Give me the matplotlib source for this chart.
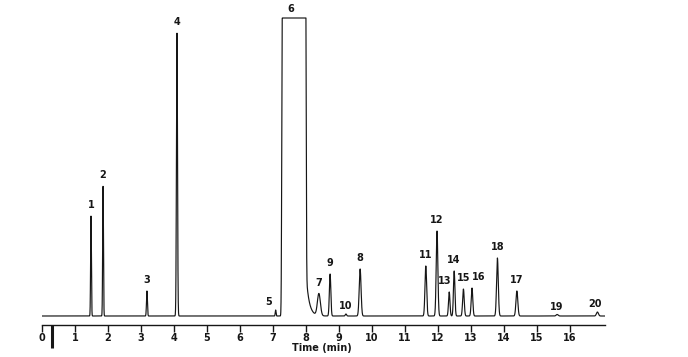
import matplotlib
matplotlib.use("Agg")
import matplotlib.pyplot as plt
import numpy as np

# peak table (time in min, height in px-like units above baseline)
peak_ids = ["1", "2", "3", "4", "5", "7", "9", "10", "8",
            "11", "12", "13", "14", "15", "16", "18", "17", "19", "20"]
peak_times = [1.485, 1.85, 3.18, 4.09, 7.08, 8.39, 8.73, 9.21, 9.64,
              11.63, 11.97, 12.34, 12.49, 12.77, 13.03, 13.80, 14.39, 15.61, 16.83]
peak_heights = [100, 130, 25, 283, 6, 22, 42, 2, 47,
                50, 85, 24, 45, 27, 28, 58, 25, 1.5, 4]
peak_sigmas = [0.012, 0.012, 0.014, 0.016, 0.012, 0.045, 0.022, 0.02, 0.028,
               0.025, 0.025, 0.022, 0.022, 0.024, 0.024, 0.026, 0.028, 0.03, 0.03]

# solvent peak 6: saturated, flat top between start/end, short tail on the right
solvent_start, solvent_end = 7.28, 7.99
solvent_top = 298
tail_ref_time, tail_ref_height, tail_tau = 8.03, 31, 0.09

t = np.linspace(0, 17.06, 8000)
signal = np.zeros_like(t)
for tm, h, s in zip(peak_times, peak_heights, peak_sigmas):
    signal += h * np.exp(-0.5 * ((t - tm) / s) ** 2)

sol = np.where(t < solvent_start,
               solvent_top * np.exp(-0.5 * ((t - solvent_start) / 0.015) ** 2),
               np.where(t > solvent_end,
                        solvent_top * np.exp(-0.5 * ((t - solvent_end) / 0.014) ** 2),
                        solvent_top))
tail = np.where(t > solvent_end,
                tail_ref_height * np.exp(-(t - tail_ref_time) / tail_tau), 0)
sol = np.minimum(sol + tail, solvent_top)
signal = signal + sol

fig = plt.figure(figsize=(6.88, 3.57), dpi=100)
ax = fig.add_axes([42 / 688, 1 - 325 / 357, 563 / 688, 308 / 357])
ax.plot(t, signal, color="#161616", lw=0.85)
ax.set_xlim(0, 17.06)
ax.set_ylim(-9, 299)

for sp in ["top", "right", "left"]:
    ax.spines[sp].set_visible(False)
ax.spines["bottom"].set_linewidth(1.0)
ax.spines["bottom"].set_color("#161616")
ax.set_yticks([])
ax.set_xticks(range(0, 17))
ax.tick_params(axis="x", direction="out", length=5, width=1.0, pad=0.5,
               labelsize=7, colors="#161616")
for lab in ax.get_xticklabels():
    lab.set_fontweight("bold")

# injection mark
ax.plot([0.3, 0.3], [-9, -32], color="#161616", lw=2.2, clip_on=False,
        solid_capstyle="butt")

ax.text(8.48, -27, "Time (min)", fontsize=7, fontweight="bold",
        ha="center", va="top", color="#161616")

label_shift = {"5": (-5, 2), "10": (0, 2), "13": (-3, 4), "16": (5, 4),
               "19": (0, 2), "20": (-2, 2)}
for pid, tm, h in zip(peak_ids, peak_times, peak_heights):
    dx, dy = label_shift.get(pid, (0, 4))
    ax.annotate(pid, (tm, h), xytext=(dx, dy), textcoords="offset points",
                ha="center", va="bottom", fontsize=7, fontweight="bold",
                color="#161616")
ax.annotate("6", ((solvent_start + solvent_end) / 2, solvent_top), xytext=(-2, 3),
            textcoords="offset points", ha="center", va="bottom", fontsize=7,
            fontweight="bold", color="#161616", annotation_clip=False)

fig.savefig("out.png", dpi=100)
